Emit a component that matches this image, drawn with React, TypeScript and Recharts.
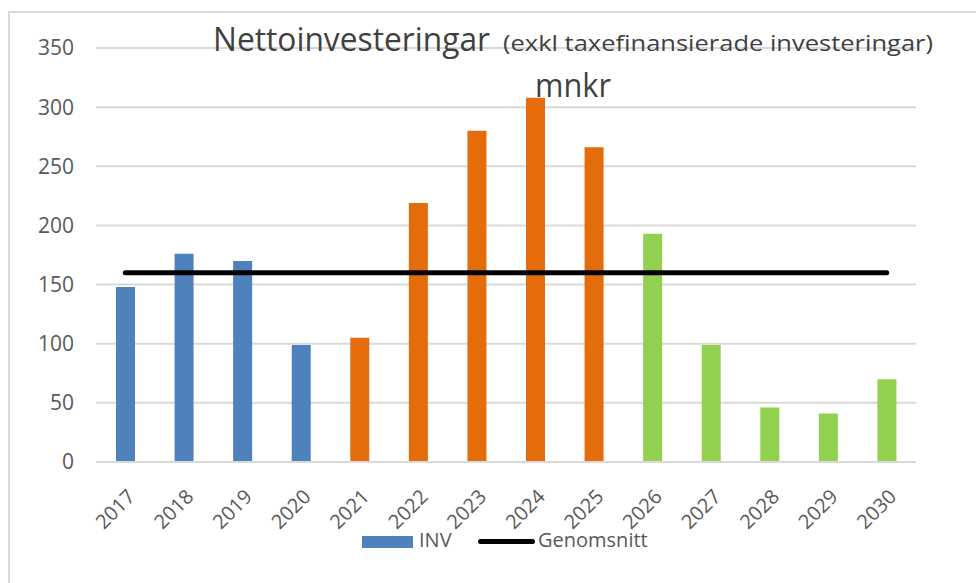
import { Bar, CartesianGrid, Cell, ComposedChart, Line, XAxis, YAxis } from "recharts";

const years = ["2017", "2018", "2019", "2020", "2021", "2022", "2023", "2024", "2025", "2026", "2027", "2028", "2029", "2030"];
const inv = [148, 176, 170, 99, 105, 219, 280, 308, 266, 193, 99, 46, 41, 70];
const genomsnitt = [160, 160, 160, 160, 160, 160, 160, 160, 160, 160, 160, 160, 160, 160];
// which period each year belongs to (gives the bar colour)
const period = ["utfall", "utfall", "utfall", "utfall", "plan", "plan", "plan", "plan", "plan", "prognos", "prognos", "prognos", "prognos", "prognos"];
const yTicks = [0, 50, 100, 150, 200, 250, 300, 350];

const periodColor: Record<string, string> = {
  utfall: "#4f81bd",
  plan: "#e46c0a",
  prognos: "#92d050",
};

const data = years.map((year, i) => ({ year, inv: inv[i], genomsnitt: genomsnitt[i] }));

const FONT = "'Open Sans', sans-serif";

function YearTick({ x, y, payload }: any) {
  return (
    <g transform={`translate(${x + 11},${y + 28})`}>
      <text transform="rotate(-45)" textAnchor="end" fill="#595959" fontSize={20} fontFamily={FONT}>
        {payload.value}
      </text>
    </g>
  );
}

function ChartLegend() {
  return (
    <div style={{ position: "absolute", left: 0, top: 529, width: 976, height: 30, fontFamily: FONT, fontSize: 20, color: "#595959" }}>
      <div style={{ position: "absolute", left: 362, top: 7, width: 51, height: 12, background: "#4f81bd" }} />
      <div style={{ position: "absolute", left: 419, top: -3 }}>INV</div>
      <div style={{ position: "absolute", left: 478, top: 10, width: 57, height: 5, background: "#000", borderRadius: 3 }} />
      <div style={{ position: "absolute", left: 538, top: -3 }}>Genomsnitt</div>
    </div>
  );
}

export default function App() {
  return (
    <div style={{ position: "absolute", left: 0, top: 0, width: 976, height: 583, background: "#fff", overflow: "hidden" }}>
      <div style={{ position: "absolute", left: 8, top: 11, width: 1000, height: 600, borderLeft: "2px solid #d9d9d9", borderTop: "2px solid #d9d9d9" }} />
      <ComposedChart width={976} height={583} data={data} margin={{ top: 48, right: 60, bottom: 51, left: 36 }} barSize={19}>
        <CartesianGrid vertical={false} stroke="#d9d9d9" strokeWidth={2} />
        <XAxis
          dataKey="year"
          height={70}
          axisLine={{ stroke: "#d9d9d9", strokeWidth: 2 }}
          tickLine={false}
          interval={0}
          tick={<YearTick />}
        />
        <YAxis
          width={60}
          domain={[0, 350]}
          ticks={yTicks}
          axisLine={false}
          tickLine={false}
          tickSize={0}
          tickMargin={22}
          tick={{ fill: "#595959", fontSize: 21, fontFamily: FONT }}
        />
        <Bar dataKey="inv" isAnimationActive={false}>
          {data.map((d, i) => (
            <Cell key={d.year} fill={periodColor[period[i]]} />
          ))}
        </Bar>
        <Line
          dataKey="genomsnitt"
          stroke="#000"
          strokeWidth={5}
          strokeLinecap="round"
          dot={false}
          activeDot={false}
          isAnimationActive={false}
        />
      </ComposedChart>
      <ChartLegend />
      <svg width={976} height={120} style={{ position: "absolute", left: 0, top: 0, pointerEvents: "none" }}>
        <text x={213} y={51} fontFamily={FONT} fontSize={32} fill="#404040" textLength={277} lengthAdjust="spacingAndGlyphs">
          Nettoinvesteringar
        </text>
        <text x={503} y={51} fontFamily={FONT} fontSize={22} fill="#404040" textLength={430} lengthAdjust="spacingAndGlyphs">
          (exkl taxefinansierade investeringar)
        </text>
        <text x={535} y={97} fontFamily={FONT} fontSize={32} fill="#404040" textLength={76} lengthAdjust="spacingAndGlyphs">
          mnkr
        </text>
      </svg>
    </div>
  );
}
